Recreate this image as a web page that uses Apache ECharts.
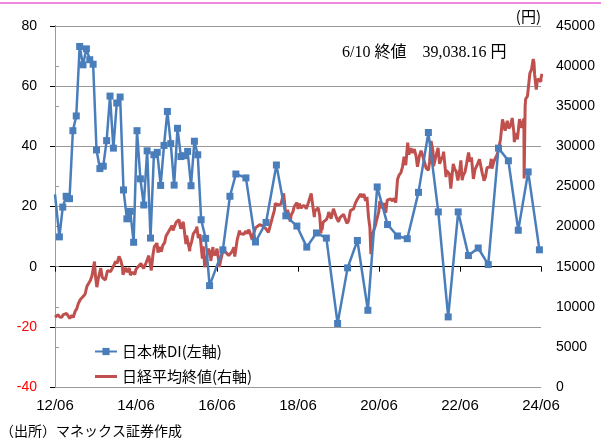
<!DOCTYPE html>
<html>
<head>
<meta charset="utf-8">
<script src="https://cdn.jsdelivr.net/npm/echarts@6/dist/echarts.min.js"></script>
<style>
html,body{margin:0;padding:0;background:#fff;}
#c{width:601px;height:439px;}
</style>
</head>
<body>
<div id="c"></div>
<script>
// ---- data ----
const seriesNames = ['日本株DI(左軸)', '日経平均終値(右軸)'];
const xTickLabels = ['12/06', '14/06', '16/06', '18/06', '20/06', '22/06', '24/06'];
const annotationText = '6/10 終値　39,038.16 円';
const sourceText = '（出所）マネックス証券作成';
const unitText = '(円)';

// 日本株DI (left axis); first entry is where the line enters at the axis edge
const diPoints = [
  ['2012-06-01',24.0],['2012-07-10',9.9],['2012-08-10',19.8],['2012-09-10',23.4],['2012-10-10',22.6],
  ['2012-11-10',45.2],['2012-12-10',50.1],['2013-01-10',73.2],['2013-02-10',67.1],['2013-03-10',72.4],
  ['2013-04-10',68.8],['2013-05-10',67.3],['2013-06-10',38.8],['2013-07-10',32.6],['2013-08-10',33.4],
  ['2013-09-10',41.9],['2013-10-10',56.7],['2013-11-10',39.4],['2013-12-10',54.4],['2014-01-10',56.4],
  ['2014-02-10',25.5],['2014-03-10',15.9],['2014-04-10',18.4],['2014-05-10',8.1],['2014-06-10',45.2],
  ['2014-07-10',29.2],['2014-08-10',20.5],['2014-09-10',38.5],['2014-10-10',9.5],['2014-11-10',37.2],
  ['2014-12-10',38.0],['2015-01-10',27.0],['2015-02-10',40.3],['2015-03-10',51.6],['2015-04-10',40.9],
  ['2015-05-10',27.1],['2015-06-10',46.0],['2015-07-10',36.6],['2015-08-10',36.9],['2015-09-10',38.3],
  ['2015-10-10',26.9],['2015-11-10',41.7],['2015-12-10',37.2],['2016-01-10',15.6],['2016-02-20',9.4],
  ['2016-03-25',-6.3],['2016-07-23',5.6],['2016-09-26',23.4],['2016-11-19',30.8],['2017-02-18',29.5],
  ['2017-05-13',8.2],['2017-08-17',14.7],['2017-11-19',33.8],['2018-02-13',16.9],['2018-05-21',13.5],
  ['2018-08-19',6.5],['2018-11-15',11.2],['2019-02-13',9.5],['2019-05-23',-18.9],['2019-08-22',-0.4],
  ['2019-11-19',8.7],['2020-02-22',-14.5],['2020-05-15',26.5],['2020-08-17',14.0],['2020-11-15',10.2],
  ['2021-02-12',9.3],['2021-05-22',24.7],['2021-08-20',44.6],['2021-11-18',18.2],['2022-02-16',-16.7],
  ['2022-05-15',18.2],['2022-08-16',3.7],['2022-11-13',6.2],['2023-02-12',0.7],['2023-05-13',39.4],
  ['2023-08-11',35.2],['2023-11-09',12.1],['2024-02-07',31.5],['2024-05-17',5.6]
];

// 日経平均終値 (right axis)
const nikkeiPoints = [
  ['2012-06-01',8700],['2012-06-15',8720],['2012-06-29',9007],['2012-07-13',8725],['2012-07-31',8695],
  ['2012-08-15',9030],['2012-08-31',8840],['2012-09-14',9160],['2012-09-28',8870],['2012-10-12',8535],
  ['2012-10-31',8928],['2012-11-13',8660],['2012-11-30',9446],['2012-12-14',9737],['2012-12-28',10395],
  ['2013-01-15',10880],['2013-01-31',11139],['2013-02-15',11173],['2013-02-28',11559],['2013-03-15',12560],
  ['2013-03-29',12398],['2013-04-15',13275],['2013-04-30',13861],['2013-05-15',15097],['2013-05-22',15627],
  ['2013-05-31',13775],['2013-06-13',12445],['2013-06-28',13677],['2013-07-18',14808],['2013-07-31',13668],
  ['2013-08-15',13752],['2013-08-28',13338],['2013-09-18',14506],['2013-09-30',14456],['2013-10-15',14404],
  ['2013-10-31',14328],['2013-11-15',15166],['2013-11-29',15662],['2013-12-13',15403],['2013-12-30',16291],
  ['2014-01-15',15808],['2014-01-31',14915],['2014-02-05',14008],['2014-02-28',14841],['2014-03-14',14327],
  ['2014-03-31',14828],['2014-04-11',13960],['2014-04-30',14304],['2014-05-21',14043],['2014-05-30',14632],
  ['2014-06-16',14933],['2014-06-30',15162],['2014-07-15',15395],['2014-07-31',15621],['2014-08-08',14778],
  ['2014-08-29',15425],['2014-09-25',16374],['2014-09-30',16174],['2014-10-17',14532],['2014-10-31',16414],
  ['2014-11-14',17490],['2014-11-28',17460],['2014-12-08',17935],['2014-12-16',16755],['2014-12-30',17451],
  ['2015-01-16',16864],['2015-01-30',17674],['2015-02-16',18004],['2015-02-27',18798],['2015-03-16',19246],
  ['2015-03-31',19207],['2015-04-22',20133],['2015-04-30',19520],['2015-05-15',19732],['2015-05-29',20563],
  ['2015-06-24',20868],['2015-06-30',20236],['2015-07-09',19737],['2015-07-31',20585],['2015-08-10',20808],
  ['2015-08-25',17806],['2015-08-31',18890],['2015-09-29',16930],['2015-09-30',17388],['2015-10-15',18097],
  ['2015-10-30',19083],['2015-11-16',19394],['2015-11-30',19747],['2015-12-01',20012],['2015-12-15',18565],
  ['2015-12-30',19034],['2016-01-21',16017],['2016-01-29',17518],['2016-02-12',14952],['2016-02-29',16027],
  ['2016-03-14',17233],['2016-03-31',16759],['2016-04-06',15715],['2016-04-25',17440],['2016-04-28',16666],
  ['2016-05-13',16412],['2016-05-31',17235],['2016-06-24',14952],['2016-06-30',15576],['2016-07-21',16811],
  ['2016-07-29',16569],['2016-08-15',16870],['2016-08-31',16887],['2016-09-15',16405],['2016-09-30',16450],
  ['2016-10-14',16856],['2016-10-31',17425],['2016-11-09',16251],['2016-11-30',18308],['2016-12-21',19494],
  ['2016-12-30',19114],['2017-01-16',19095],['2017-01-31',19041],['2017-02-15',19437],['2017-02-28',19119],
  ['2017-03-14',19610],['2017-03-31',18909],['2017-04-14',18335],['2017-04-28',19197],['2017-05-15',19869],
  ['2017-05-31',19651],['2017-06-20',20230],['2017-06-30',20033],['2017-07-14',20118],['2017-07-31',19925],
  ['2017-08-15',19753],['2017-08-31',19646],['2017-09-08',19275],['2017-09-29',20356],['2017-10-16',21255],
  ['2017-10-31',22012],['2017-11-09',22868],['2017-11-30',22725],['2017-12-15',22553],['2017-12-29',22765],
  ['2018-01-23',24124],['2018-01-31',23098],['2018-02-14',21154],['2018-02-28',22068],['2018-03-23',20617],
  ['2018-03-30',21454],['2018-04-16',21835],['2018-04-27',22468],['2018-05-21',23002],['2018-05-31',22202],
  ['2018-06-12',22878],['2018-06-29',22305],['2018-07-13',22597],['2018-07-31',22554],['2018-08-15',22204],
  ['2018-08-31',22865],['2018-09-14',23094],['2018-09-28',24120],['2018-10-02',24270],['2018-10-26',21184],
  ['2018-10-31',21920],['2018-11-15',21803],['2018-11-30',22351],['2018-12-14',21374],['2018-12-25',19155],
  ['2018-12-28',20015],['2019-01-04',19561],['2019-01-15',20555],['2019-01-31',20773],['2019-02-15',20901],
  ['2019-02-28',21385],['2019-03-04',21822],['2019-03-25',20977],['2019-03-29',21206],['2019-04-16',22221],
  ['2019-04-26',22259],['2019-05-14',21067],['2019-05-31',20601],['2019-06-14',21117],['2019-06-28',21276],
  ['2019-07-16',21535],['2019-07-31',21521],['2019-08-15',20405],['2019-08-30',20704],['2019-09-17',22001],
  ['2019-09-30',21756],['2019-10-15',22207],['2019-10-31',22927],['2019-11-15',23303],['2019-11-29',23294],
  ['2019-12-17',24066],['2019-12-30',23657],['2020-01-17',24041],['2020-01-31',23205],['2020-02-14',23687],
  ['2020-02-28',21143],['2020-03-10',19867],['2020-03-19',16553],['2020-03-31',18917],['2020-04-15',19550],
  ['2020-04-30',20194],['2020-05-15',20037],['2020-05-29',21877],['2020-06-08',23178],['2020-06-30',22288],
  ['2020-07-15',22945],['2020-07-31',21710],['2020-08-14',23289],['2020-08-31',23140],['2020-09-15',23454],
  ['2020-09-30',23185],['2020-10-15',23507],['2020-10-30',22977],['2020-11-16',25907],['2020-11-30',26434],
  ['2020-12-15',26687],['2020-12-30',27444],['2021-01-14',28698],['2021-01-29',27663],['2021-02-16',30467],
  ['2021-02-26',28966],['2021-03-15',29767],['2021-03-31',29179],['2021-04-15',29643],['2021-04-30',28813],
  ['2021-05-13',27448],['2021-05-31',28860],['2021-06-15',29441],['2021-06-30',28792],['2021-07-14',28609],
  ['2021-07-30',27284],['2021-08-20',27013],['2021-08-31',28090],['2021-09-14',30670],['2021-09-30',29453],
  ['2021-10-06',27528],['2021-10-29',28893],['2021-11-16',29809],['2021-11-30',27822],['2021-12-15',28460],
  ['2021-12-30',28792],['2022-01-05',29332],['2022-01-27',26170],['2022-01-31',27002],['2022-02-15',26865],
  ['2022-02-28',26527],['2022-03-09',24718],['2022-03-31',27821],['2022-04-14',27172],['2022-04-28',26848],
  ['2022-05-12',25748],['2022-05-31',27280],['2022-06-09',28246],['2022-06-20',25771],['2022-06-30',26393],
  ['2022-07-15',26788],['2022-07-29',27802],['2022-08-17',29222],['2022-08-31',28092],['2022-09-13',28614],
  ['2022-09-30',25937],['2022-10-14',27091],['2022-10-31',27587],['2022-11-24',28383],['2022-11-30',27968],
  ['2022-12-20',26568],['2022-12-30',26095],['2023-01-04',25717],['2023-01-16',26086],['2023-01-31',27327],
  ['2023-02-15',27501],['2023-02-28',27446],['2023-03-09',28444],['2023-03-15',27229],['2023-03-31',28041],
  ['2023-04-14',28493],['2023-04-28',28856],['2023-05-15',29626],['2023-05-31',30888],['2023-06-19',33370],
  ['2023-06-30',33189],['2023-07-12',31944],['2023-07-31',33172],['2023-08-15',32238],['2023-08-31',32619],
  ['2023-09-15',33533],['2023-09-29',31858],['2023-10-04',30526],['2023-10-16',31659],['2023-10-31',30859],
  ['2023-11-20',33388],['2023-11-30',33487],['2023-12-08',32307],['2023-12-29',33464],['2024-01-01',26000],
  ['2024-01-10',35049],['2024-01-15',35901],['2024-01-31',36287],['2024-02-15',38157],['2024-02-22',39098],
  ['2024-02-29',39166],['2024-03-07',39598],['2024-03-22',40888],['2024-03-29',40369],['2024-04-04',38992],
  ['2024-04-19',37068],['2024-04-30',38405],['2024-05-15',38385],['2024-05-30',38054],['2024-05-31',38488],
  ['2024-06-10',39038]
];

// ---- helpers: date -> months since 2012/06 ----
function toMonths(s) {
  const p = s.split('-').map(Number);
  return (p[0] - 2012) * 12 + (p[1] - 6) + (p[2] - 1) / 30;
}
const diSeries = diPoints.map((d, i) => i === 0
  ? {value: [toMonths(d[0]), d[1]], symbol: 'none'}
  : [toMonths(d[0]), d[1]]);
const nikkeiSeries = nikkeiPoints.map(d => [toMonths(d[0]), d[1]]);

const SANS = "'Liberation Sans', Arial, 'Noto Sans CJK JP', sans-serif";
const CJK = "'Noto Sans CJK JP', 'Liberation Sans', sans-serif";
const SERIF = "'Liberation Serif', 'Noto Sans CJK JP', serif";
const BLUE = '#4A7EBB';
const RED = '#C0504D';
const GRID = '#999999';

const chart = echarts.init(document.getElementById('c'), null, {renderer: 'canvas'});
chart.setOption({
  animation: false,
  backgroundColor: '#fff',
  grid: {left: 55, right: 60, top: 26, bottom: 52, containLabel: false},
  legend: {
    orient: 'vertical', left: 89, top: 338,
    itemWidth: 22, itemHeight: 9, itemGap: 8,
    textStyle: {fontSize: 15, fontFamily: CJK, color: '#000', lineHeight: 17},
    data: [
      {name: seriesNames[0]},
      {name: seriesNames[1], icon: 'path://M0,0 L22,0 L22,3 L0,3 Z'}
    ]
  },
  xAxis: [
    {
      type: 'value', min: 0, max: 144, interval: 24, position: 'bottom',
      axisLine: {show: false, onZero: false}, axisTick: {show: false}, splitLine: {show: false},
      axisLabel: {
        fontSize: 15, fontFamily: SANS, color: '#000', margin: 11,
        formatter: v => (v % 24 === 0 ? xTickLabels[v / 24] : '')
      }
    },
    {
      type: 'value', min: 0, max: 144, interval: 24, position: 'bottom',
      axisLine: {show: true, onZero: true, onZeroAxisIndex: 0, lineStyle: {color: '#000', width: 1}},
      axisTick: {show: true, length: 5, lineStyle: {color: '#000'}},
      axisLabel: {show: false}, splitLine: {show: false}
    }
  ],
  yAxis: [
    {
      type: 'value', min: -40, max: 80, interval: 20, position: 'left',
      axisLine: {show: true, lineStyle: {color: '#000', width: 1}},
      axisTick: {show: true, length: 5, lineStyle: {color: '#000'}},
      splitLine: {show: true, lineStyle: {color: GRID, width: 1}},
      axisLabel: {fontSize: 14, fontFamily: SANS, margin: 18, color: v => (Number(v) < 0 ? '#ff0000' : '#000')}
    },
    {
      type: 'value', min: 0, max: 45000, interval: 5000, position: 'right',
      axisLine: {show: true, lineStyle: {color: GRID, width: 1}},
      axisTick: {show: true, length: 4, lineStyle: {color: GRID}},
      splitLine: {show: false},
      axisLabel: {fontSize: 14, fontFamily: SANS, margin: 15, color: '#000', formatter: v => String(v)}
    }
  ],
  series: [
    {
      name: seriesNames[1], type: 'line', xAxisIndex: 0, yAxisIndex: 1,
      data: nikkeiSeries, showSymbol: false, symbol: 'none', z: 2,
      lineStyle: {color: RED, width: 3}, itemStyle: {color: RED}
    },
    {
      name: seriesNames[0], type: 'line', xAxisIndex: 0, yAxisIndex: 0,
      data: diSeries, symbol: 'rect', symbolSize: 7, showSymbol: true, z: 3,
      lineStyle: {color: BLUE, width: 2.5}, itemStyle: {color: BLUE}
    }
  ],
  graphic: [
    {type: 'line', shape: {x1: 0, y1: 3, x2: 601, y2: 3}, style: {stroke: '#ee88dd', lineWidth: 2}},
    {type: 'text', right: 60, top: 9, style: {text: unitText, font: "15px 'Noto Sans CJK JP'", fill: '#000'}},
    {type: 'text', left: 342, top: 45, style: {text: annotationText, font: "16px " + SERIF, fill: '#000'}},
    {type: 'text', left: 0, top: 424, style: {text: sourceText, font: "14px 'Noto Sans CJK JP'", fill: '#000'}}
  ]
});
</script>
</body>
</html>
